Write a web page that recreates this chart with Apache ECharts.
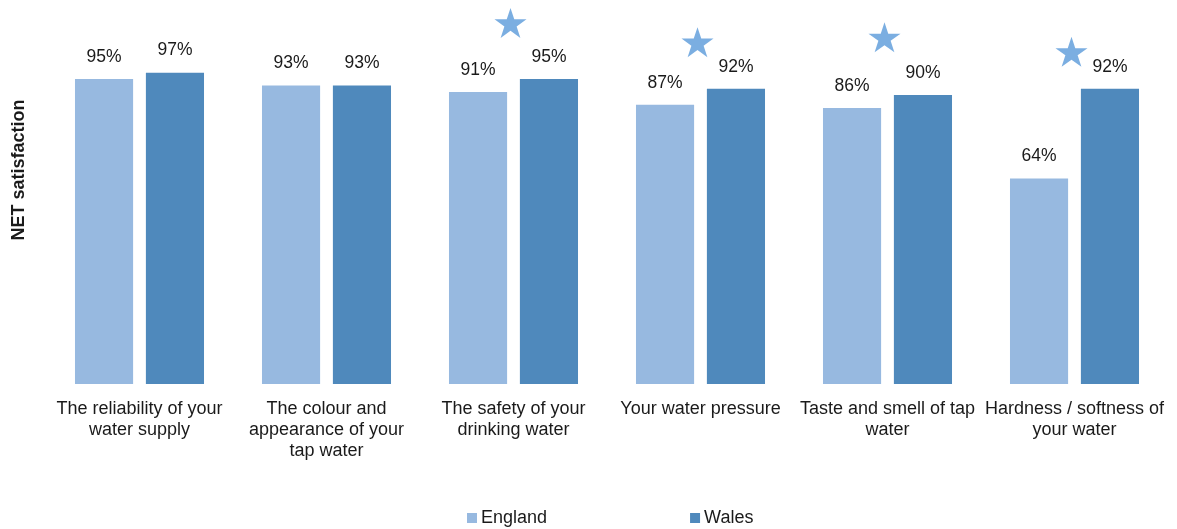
<!DOCTYPE html>
<html>
<head>
<meta charset="utf-8">
<script src="https://cdn.jsdelivr.net/npm/echarts@6/dist/echarts.min.js"></script>
<style>
  html, body { margin: 0; padding: 0; background: #fff; }
  #chart { width: 1177px; height: 529px; }
</style>
</head>
<body>
<div id="chart"></div>
<script>
// Satisfaction with aspects of tap water supply, England vs Wales
const categories = [
  'The reliability of your\nwater supply',
  'The colour and\nappearance of your\ntap water',
  'The safety of your\ndrinking water',
  'Your water pressure',
  'Taste and smell of tap\nwater',
  'Hardness / softness of\nyour water'
];
const england = [95, 93, 91, 87, 86, 64];
const wales = [97, 93, 95, 92, 90, 92];
// Significant-difference markers (height on the value scale, '-' = none)
const starHeights = ['-', '-', 112.5, 106.5, 108, 103.5];

const FONT = '"Liberation Sans", Arial, sans-serif';
const TEXT = '#1a1a1a';
const STAR = 'path://M50,0 L61.2,34.5 L97.6,34.5 L68.2,55.9 L79.4,90.5 L50,69.1 L20.6,90.5 L31.8,55.9 L2.4,34.5 L38.8,34.5 Z';

const chart = echarts.init(document.getElementById('chart'), null, { renderer: 'canvas' });

const valueLabel = {
  show: true,
  position: 'top',
  distance: 13,
  formatter: p => p.value + '%',
  fontFamily: FONT,
  fontSize: 17.5,
  color: TEXT
};

chart.setOption({
  animation: false,
  backgroundColor: '#ffffff',
  grid: { left: 46, right: 9, top: 63, bottom: 145 },
  legend: {
    bottom: -3,
    left: 462,
    itemWidth: 10,
    itemHeight: 10,
    itemGap: 143,
    icon: 'rect',
    data: ['England', 'Wales'],
    textStyle: { fontFamily: FONT, fontSize: 18, color: TEXT, padding: [0, 0, 0, -1] }
  },
  xAxis: {
    type: 'category',
    data: categories,
    axisLine: { show: false },
    axisTick: { show: false },
    axisLabel: {
      interval: 0,
      margin: 15,
      fontFamily: FONT,
      fontSize: 18,
      lineHeight: 21,
      color: TEXT
    }
  },
  yAxis: {
    type: 'value',
    min: 0,
    max: 100,
    show: false
  },
  graphic: [{
    type: 'text',
    rotation: Math.PI / 2,
    x: 19,
    y: 170,
    style: {
      text: 'NET satisfaction',
      font: 'bold 18px ' + FONT,
      fill: TEXT,
      align: 'center',
      verticalAlign: 'middle'
    }
  }],
  series: [
    {
      name: 'England',
      type: 'bar',
      data: england,
      barGap: '22%',
      barCategoryGap: '31%',
      itemStyle: { color: '#97B9E0' },
      label: valueLabel
    },
    {
      name: 'Wales',
      type: 'bar',
      data: wales,
      itemStyle: { color: '#4F89BC' },
      label: valueLabel
    },
    {
      name: 'marker',
      type: 'scatter',
      data: starHeights,
      clip: false,
      symbol: STAR,
      symbolSize: [32, 30],
      symbolOffset: [-3, 0],
      itemStyle: { color: '#5A9ADA' },
      silent: true
    }
  ]
});
</script>
</body>
</html>
